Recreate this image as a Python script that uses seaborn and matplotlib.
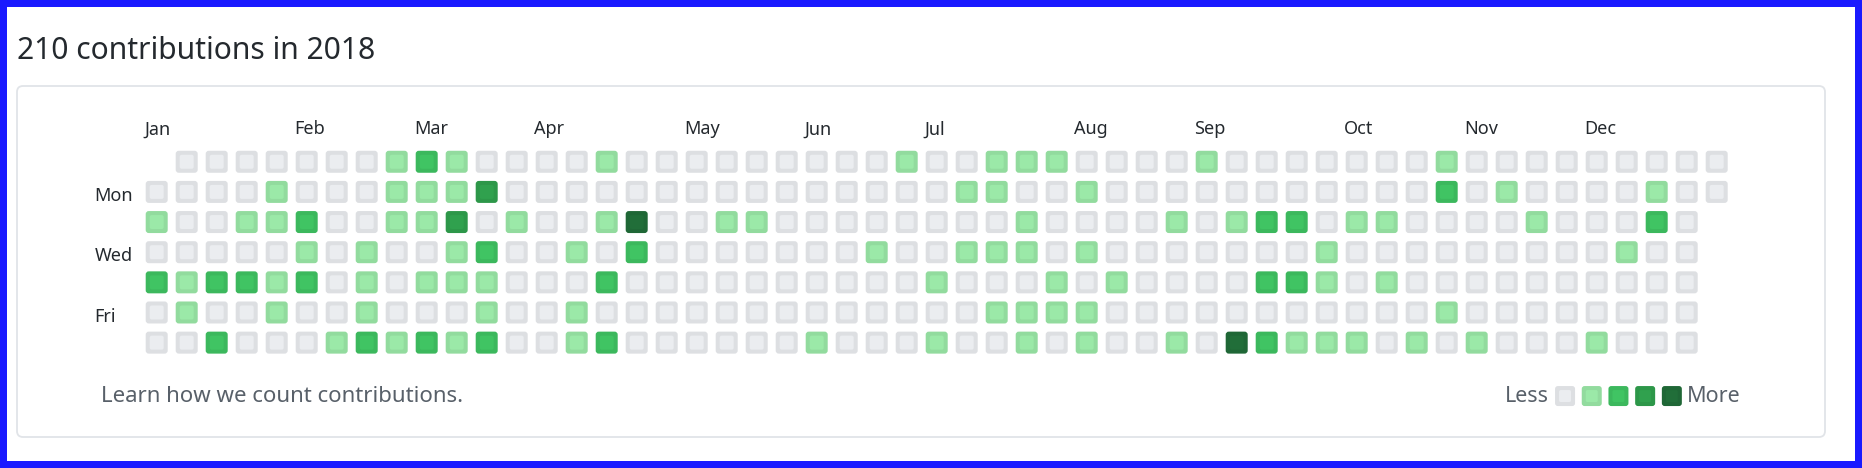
import numpy as np
import pandas as pd
import matplotlib.pyplot as plt
import seaborn as sns
from matplotlib.patches import FancyBboxPatch

# --- data ---
year = 2018
title = "210 contributions in 2018"
footer = "Learn how we count contributions."
weekday_names = ["Sun", "Mon", "Tue", "Wed", "Thu", "Fri", "Sat"]
day_ticks = ["Mon", "Wed", "Fri"]

# contribution level (0..4) per week column, one list per weekday; None = not in 2018
sun = [None, 0, 0, 0, 0, 0, 0, 0, 1, 2, 1, 0, 0,
       0, 0, 1, 0, 0, 0, 0, 0, 0, 0, 0, 0, 1,
       0, 0, 1, 1, 1, 0, 0, 0, 0, 1, 0, 0, 0,
       0, 0, 0, 0, 1, 0, 0, 0, 0, 0, 0, 0, 0, 0]
mon = [0, 0, 0, 0, 1, 0, 0, 0, 1, 1, 1, 3, 0,
       0, 0, 0, 0, 0, 0, 0, 0, 0, 0, 0, 0, 0,
       0, 1, 1, 0, 0, 1, 0, 0, 0, 0, 0, 0, 0,
       0, 0, 0, 0, 2, 0, 1, 0, 0, 0, 0, 1, 0, 0]
tue = [1, 0, 0, 1, 1, 2, 0, 0, 1, 1, 3, 0, 1,
       0, 0, 1, 4, 0, 0, 1, 1, 0, 0, 0, 0, 0,
       0, 0, 0, 1, 0, 0, 0, 0, 1, 0, 1, 2, 2,
       0, 1, 1, 0, 0, 0, 0, 1, 0, 0, 0, 2, 0, None]
wed = [0, 0, 0, 0, 0, 1, 0, 1, 0, 0, 1, 2, 0,
       0, 1, 0, 2, 0, 0, 0, 0, 0, 0, 0, 1, 0,
       0, 1, 1, 1, 0, 1, 0, 0, 0, 0, 0, 0, 0,
       1, 0, 0, 0, 0, 0, 0, 0, 0, 0, 1, 0, 0, None]
thu = [2, 1, 2, 2, 1, 2, 0, 1, 0, 1, 1, 1, 0,
       0, 0, 2, 0, 0, 0, 0, 0, 0, 0, 0, 0, 0,
       1, 0, 0, 0, 1, 0, 1, 0, 0, 0, 0, 2, 2,
       1, 0, 1, 0, 0, 0, 0, 0, 0, 0, 0, 0, 0, None]
fri = [0, 1, 0, 0, 1, 0, 0, 1, 0, 0, 0, 1, 0,
       0, 1, 0, 0, 0, 0, 0, 0, 0, 0, 0, 0, 0,
       0, 0, 1, 1, 1, 1, 0, 0, 0, 0, 0, 0, 0,
       0, 0, 0, 0, 1, 0, 0, 0, 0, 0, 0, 0, 0, None]
sat = [0, 0, 2, 0, 0, 0, 1, 2, 1, 2, 1, 2, 0,
       0, 1, 2, 0, 0, 0, 0, 0, 0, 1, 0, 0, 0,
       1, 0, 0, 1, 0, 1, 0, 0, 1, 0, 4, 2, 1,
       1, 1, 0, 1, 0, 1, 0, 0, 0, 1, 0, 0, 0, None]

legend_levels = [0, 1, 2, 3, 4]
level_colors = ["#ebedf0", "#9be9a8", "#40c463", "#30a14e", "#216e39"]

# --- long table: one row per day ---
start = pd.Timestamp(year - 1, 12, 31)   # sunday of the first column
rows = []
for d, series in enumerate([sun, mon, tue, wed, thu, fri, sat]):
    for w, lvl in enumerate(series):
        if lvl is None:
            continue
        rows.append({"date": start + pd.Timedelta(days=7 * w + d),
                     "week": w, "weekday": d, "level": lvl})
df = pd.DataFrame(rows)

# month label goes on the first column whose first shown day is in that month
first_days = df.groupby("week")["date"].min()
month_cols = first_days[first_days.dt.month != first_days.dt.month.shift()]
month_pos = month_cols.index.to_numpy()
month_labels = month_cols.dt.strftime("%b").tolist()

sns.set_theme(style="white")
plt.rcParams["font.family"] = ["Noto Sans", "DejaVu Sans"]

W, H = 1862, 468
fig = plt.figure(figsize=(W / 100, H / 100), dpi=100, facecolor="white",
                 edgecolor="#1a1aff", linewidth=10)

# card frame
fig.patches.append(FancyBboxPatch((17 / 100, (H - 437) / 100), 1808 / 100, 351 / 100,
                                  boxstyle="round,pad=0,rounding_size=0.06",
                                  transform=fig.dpi_scale_trans, facecolor="none",
                                  edgecolor="#e1e4e8", linewidth=1.3))

fig.text(17 / W, 1 - 51 / H, title, fontsize=21.6, color="#24292e", va="center")
fig.text(101 / W, 1 - 397 / H, footer, fontsize=16, color="#586069", va="center")


def rounded_square():
    return FancyBboxPatch((-0.5, -0.5), 1, 1,
                          boxstyle="round,pad=0,rounding_size=0.14").get_path()


cell = rounded_square()
ring_pal = {i: tuple(np.array(plt.matplotlib.colors.to_rgb(c)) * 0.94)
            for i, c in enumerate(level_colors)}
fill_pal = {i: c for i, c in enumerate(level_colors)}


def px2s(px):
    return (px * 72 / 100) ** 2


ax = fig.add_axes([141.7 / W, 1 - 357.7 / H, 1590 / W, 211 / H])
sns.scatterplot(data=df, x="week", y="weekday", hue="level", palette=ring_pal,
                marker=cell, s=px2s(22), linewidth=0, legend=False, ax=ax)
sns.scatterplot(data=df, x="week", y="weekday", hue="level", palette=fill_pal,
                marker=cell, s=px2s(14), linewidth=0, legend=False, ax=ax)
ax.set_xlim(-0.5, 52.5)
ax.set_ylim(6.5, -0.5)
ax.set_xlabel("")
ax.set_ylabel("")
for s in ax.spines.values():
    s.set_visible(False)
ax.xaxis.tick_top()
ax.set_xticks(month_pos - 0.42)
ax.set_xticklabels(month_labels, ha="left", fontsize=13, color="#24292e")
ax.set_yticks([weekday_names.index(d) + 0.07 for d in day_ticks])
ax.set_yticklabels(day_ticks, ha="left", fontsize=13, color="#24292e")
ax.tick_params(axis="x", length=0, pad=6)
ax.tick_params(axis="y", length=0, pad=34)
ax.set_facecolor("none")

# legend strip
lg = fig.add_axes([1551.7 / W, 1 - 409.4 / H, 133.5 / W, 26.7 / H])
leg_df = pd.DataFrame({"x": range(len(legend_levels)), "y": 0, "level": legend_levels})
sns.scatterplot(data=leg_df, x="x", y="y", hue="level", palette=ring_pal,
                marker=cell, s=px2s(20), linewidth=0, legend=False, ax=lg)
sns.scatterplot(data=leg_df, x="x", y="y", hue="level", palette=fill_pal,
                marker=cell, s=px2s(12), linewidth=0, legend=False, ax=lg)
lg.set_xlim(-0.5, len(legend_levels) - 0.5)
lg.set_ylim(-0.5, 0.5)
lg.axis("off")
lg.text(-0.62, 0, "Less", ha="right", va="center", fontsize=15.5, color="#586069")
lg.text(len(legend_levels) - 0.42, 0, "More", ha="left", va="center", fontsize=15.5, color="#586069")

fig.savefig("out.png", dpi=100, facecolor="white", edgecolor=fig.get_edgecolor())
